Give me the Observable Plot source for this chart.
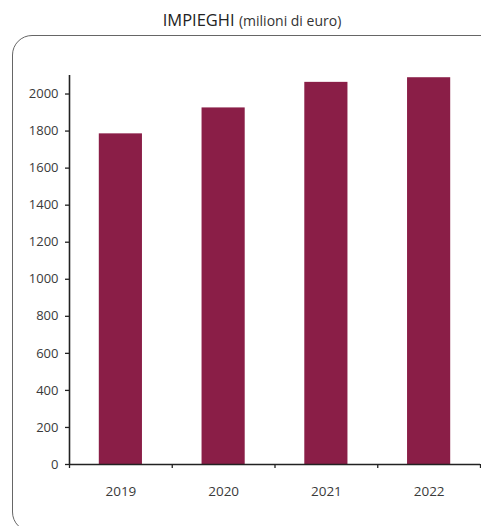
<!DOCTYPE html>
<html>
<head>
<meta charset="utf-8">
<script src="https://cdn.jsdelivr.net/npm/d3@7"></script>
<script src="https://cdn.jsdelivr.net/npm/@observablehq/plot@0.6"></script>
<style>
  html, body { margin: 0; padding: 0; background: #fff; overflow: hidden; }
  body { width: 481px; height: 526px; position: relative; font-family: "Open Sans", sans-serif; }
  #title { position: absolute; left: 12px; width: 480px; top: 10px; text-align: center; color: #222; font-size: 16.5px; line-height: 20px; }
  #title small { font-size: 14px; color: #333; }
  #frame { position: absolute; left: 12px; top: 35px; width: 490px; height: 497px; border: 1px solid #666; border-radius: 20px; box-sizing: border-box; }
  #chart { position: absolute; left: 0; top: 35px; }
</style>
</head>
<body>
<div id="title">IMPIEGHI <small>(milioni di euro)</small></div>
<div id="frame"></div>
<div id="chart"></div>
<script>
const years = [2019, 2020, 2021, 2022];
const values = [1785, 1925, 2063, 2088];
const yTicks = [0, 200, 400, 600, 800, 1000, 1200, 1400, 1600, 1800, 2000];
const yMax = 2100;

const data = years.map((y, i) => ({year: y, value: values[i]}));
const halfBar = 0.21;
const boundaries = [years[0] - 0.5, ...years.map(y => y + 0.5)];

const plot = Plot.plot({
  width: 481,
  height: 491,
  marginLeft: 69,
  marginRight: 1,
  marginTop: 40,
  marginBottom: 62,
  style: {fontFamily: "Open Sans, sans-serif", fontSize: "13px", color: "#3a3a3a", background: "transparent"},
  x: {domain: [boundaries[0], boundaries[boundaries.length - 1]]},
  y: {domain: [0, yMax]},
  marks: [
    Plot.rectY(data, {x1: d => d.year - halfBar, x2: d => d.year + halfBar, y1: 0, y2: "value", fill: "#8a1e47"}),
    Plot.axisY({ticks: yTicks, tickSize: 4, tickPadding: 7, tickFormat: d => String(d), label: null, stroke: "#222", strokeWidth: 1.3}),
    Plot.ruleX([boundaries[0]], {stroke: "#222", strokeWidth: 1.6}),
    Plot.ruleY([0], {stroke: "#222", strokeWidth: 1.6}),
    Plot.axisX({ticks: boundaries, tickSize: 4, tickFormat: () => "", label: null, stroke: "#222", strokeWidth: 1.3}),
    Plot.axisX({ticks: years, tickSize: 0, tickPadding: 22, tickFormat: d => String(d), label: null, fontSize: "13.5px"})
  ]
});
document.getElementById("chart").appendChild(plot);
</script>
</body>
</html>
